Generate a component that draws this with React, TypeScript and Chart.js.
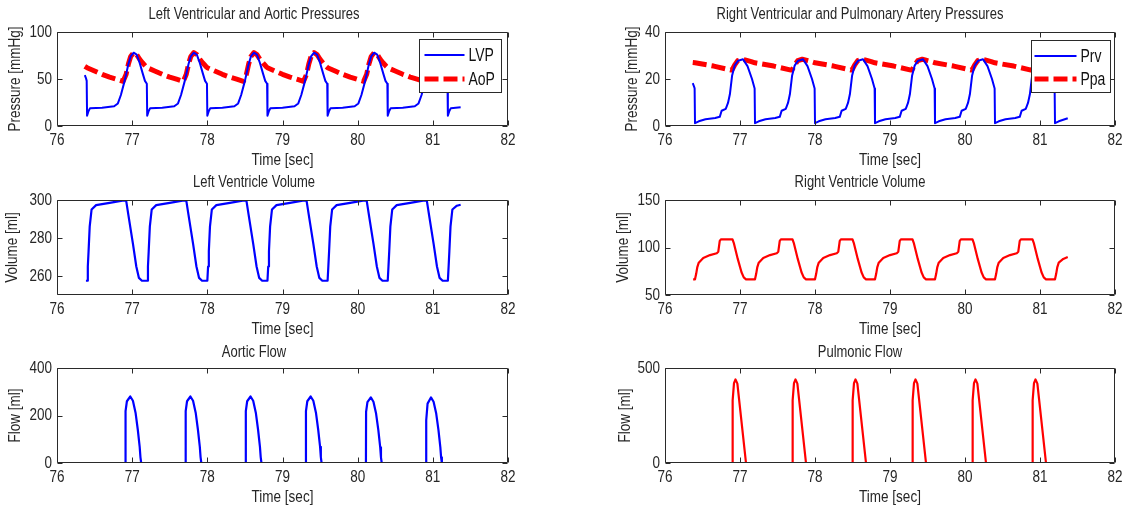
import React, { useEffect, useRef } from 'react';
import { Chart, registerables } from 'chart.js';

Chart.register(...registerables);

const FONT = '"Liberation Sans", Arial, Helvetica, sans-serif';
const TEXT = '#262626';
const BLUE = '#0000ff';
const RED = '#ff0000';
const TEXT_STRETCH = 1.25;

type P = [number, number];

// ---------- tick labels ----------
const timeTicks = [76, 77, 78, 79, 80, 81, 82];
const lvPressureTicks = [0, 50, 100];
const rvPressureTicks = [0, 20, 40];
const lvVolumeTicks = [260, 280, 300];
const rvVolumeTicks = [50, 100, 150];
const aorticFlowTicks = [0, 200, 400];
const pulmonicFlowTicks = [0, 500];

// ---------- series (time [s], value) ----------
const lvp: P[] = [
  [76.37, 54], [76.385, 51], [76.395, 48],
  [76.40, 11], [76.42, 16], [76.44, 19], [76.60, 19.5], [76.76, 21], [76.81, 24], [76.85, 33], [76.90, 48], [76.95, 66], [76.98, 74], [77.02, 78], [77.06, 76], [77.10, 67], [77.14, 56], [77.17, 48], [77.195, 45],
  [77.20, 11], [77.22, 16], [77.24, 19], [77.40, 19.5], [77.56, 21], [77.61, 24], [77.65, 33], [77.70, 48], [77.75, 66], [77.78, 74], [77.82, 78], [77.86, 76], [77.90, 67], [77.94, 56], [77.97, 48], [77.995, 45],
  [78.00, 11], [78.02, 16], [78.04, 19], [78.20, 19.5], [78.36, 21], [78.41, 24], [78.45, 33], [78.50, 48], [78.55, 66], [78.58, 74], [78.62, 78], [78.66, 76], [78.70, 67], [78.74, 56], [78.77, 48], [78.795, 45],
  [78.80, 11], [78.82, 16], [78.84, 19], [79.00, 19.5], [79.16, 21], [79.21, 24], [79.25, 33], [79.30, 48], [79.35, 66], [79.38, 74], [79.42, 78], [79.46, 76], [79.50, 67], [79.54, 56], [79.57, 48], [79.595, 45],
  [79.60, 11], [79.62, 16], [79.64, 19], [79.80, 19.5], [79.96, 21], [80.01, 24], [80.05, 33], [80.10, 48], [80.15, 66], [80.18, 74], [80.22, 78], [80.26, 76], [80.30, 67], [80.34, 56], [80.37, 48], [80.395, 45],
  [80.40, 11], [80.42, 16], [80.44, 19], [80.60, 19.5], [80.76, 21], [80.81, 24], [80.85, 33], [80.90, 48], [80.95, 66], [80.98, 74], [81.02, 78], [81.06, 76], [81.10, 67], [81.14, 56], [81.17, 48], [81.195, 45],
  [81.20, 11], [81.22, 16], [81.24, 19], [81.37, 20],
];

const aop: P[] = [
  [76.37, 63.5],
  [76.40, 62], [76.50, 58.5], [76.60, 55], [76.70, 52], [76.80, 49.5], [76.88, 47.5], [76.92, 55], [76.95, 66], [76.98, 74], [77.02, 78], [77.06, 76], [77.10, 71], [77.14, 67], [77.18, 63.5],
  [77.20, 62], [77.30, 58.5], [77.40, 55], [77.50, 52], [77.60, 49.5], [77.68, 47.5], [77.72, 55], [77.75, 66], [77.78, 74], [77.82, 78], [77.86, 76], [77.90, 71], [77.94, 67], [77.98, 63.5],
  [78.00, 62], [78.10, 58.5], [78.20, 55], [78.30, 52], [78.40, 49.5], [78.48, 47.5], [78.52, 55], [78.55, 66], [78.58, 74], [78.62, 78], [78.66, 76], [78.70, 71], [78.74, 67], [78.78, 63.5],
  [78.80, 62], [78.90, 58.5], [79.00, 55], [79.10, 52], [79.20, 49.5], [79.28, 47.5], [79.32, 55], [79.35, 66], [79.38, 74], [79.42, 78], [79.46, 76], [79.50, 71], [79.54, 67], [79.58, 63.5],
  [79.60, 62], [79.70, 58.5], [79.80, 55], [79.90, 52], [80.00, 49.5], [80.08, 47.5], [80.12, 55], [80.15, 66], [80.18, 74], [80.22, 78], [80.26, 76], [80.30, 71], [80.34, 67], [80.38, 63.5],
  [80.40, 62], [80.50, 58.5], [80.60, 55], [80.70, 52], [80.80, 49.5], [80.88, 47.5], [80.92, 55], [80.95, 66], [80.98, 74], [81.02, 78], [81.06, 76], [81.10, 71], [81.14, 67], [81.18, 63.5],
  [81.20, 62], [81.30, 58.5], [81.37, 56.5],
];

const prv: P[] = [
  [76.37, 18.2], [76.385, 17], [76.395, 16],
  [76.40, 1.2], [76.45, 2], [76.54, 2.9], [76.67, 3.4], [76.73, 3.9], [76.755, 6.5], [76.81, 7.3], [76.84, 9.8], [76.865, 13.5], [76.895, 21.5], [76.93, 25.8], [76.975, 27.8], [77.04, 28.4], [77.10, 25.5], [77.16, 20], [77.195, 16],
  [77.20, 1.2], [77.25, 2], [77.34, 2.9], [77.47, 3.4], [77.53, 3.9], [77.555, 6.5], [77.61, 7.3], [77.64, 9.8], [77.665, 13.5], [77.695, 21.5], [77.73, 25.8], [77.775, 27.8], [77.84, 28.4], [77.90, 25.5], [77.96, 20], [77.995, 16],
  [78.00, 1.2], [78.05, 2], [78.14, 2.9], [78.27, 3.4], [78.33, 3.9], [78.355, 6.5], [78.41, 7.3], [78.44, 9.8], [78.465, 13.5], [78.495, 21.5], [78.53, 25.8], [78.575, 27.8], [78.64, 28.4], [78.70, 25.5], [78.76, 20], [78.795, 16],
  [78.80, 1.2], [78.85, 2], [78.94, 2.9], [79.07, 3.4], [79.13, 3.9], [79.155, 6.5], [79.21, 7.3], [79.24, 9.8], [79.265, 13.5], [79.295, 21.5], [79.33, 25.8], [79.375, 27.8], [79.44, 28.4], [79.50, 25.5], [79.56, 20], [79.595, 16],
  [79.60, 1.2], [79.65, 2], [79.74, 2.9], [79.87, 3.4], [79.93, 3.9], [79.955, 6.5], [80.01, 7.3], [80.04, 9.8], [80.065, 13.5], [80.095, 21.5], [80.13, 25.8], [80.175, 27.8], [80.24, 28.4], [80.30, 25.5], [80.36, 20], [80.395, 16],
  [80.40, 1.2], [80.45, 2], [80.54, 2.9], [80.67, 3.4], [80.73, 3.9], [80.755, 6.5], [80.81, 7.3], [80.84, 9.8], [80.865, 13.5], [80.895, 21.5], [80.93, 25.8], [80.975, 27.8], [81.04, 28.4], [81.10, 25.5], [81.16, 20], [81.195, 16],
  [81.20, 1.2], [81.25, 2], [81.37, 3.3],
];

const ppa: P[] = [
  [76.37, 27.0],
  [76.40, 26.9], [76.65, 25.5], [76.88, 23.8], [76.90, 24.2], [76.93, 26.0], [76.97, 27.8], [77.03, 28.4], [77.08, 28.0], [77.15, 27.4],
  [77.20, 26.9], [77.45, 25.5], [77.68, 23.8], [77.70, 24.2], [77.73, 26.0], [77.77, 27.8], [77.83, 28.4], [77.88, 28.0], [77.95, 27.4],
  [78.00, 26.9], [78.25, 25.5], [78.48, 23.8], [78.50, 24.2], [78.53, 26.0], [78.57, 27.8], [78.63, 28.4], [78.68, 28.0], [78.75, 27.4],
  [78.80, 26.9], [79.05, 25.5], [79.28, 23.8], [79.30, 24.2], [79.33, 26.0], [79.37, 27.8], [79.43, 28.4], [79.48, 28.0], [79.55, 27.4],
  [79.60, 26.9], [79.85, 25.5], [80.08, 23.8], [80.10, 24.2], [80.13, 26.0], [80.17, 27.8], [80.23, 28.4], [80.28, 28.0], [80.35, 27.4],
  [80.40, 26.9], [80.65, 25.5], [80.88, 23.8], [80.90, 24.2], [80.93, 26.0], [80.97, 27.8], [81.03, 28.4], [81.08, 28.0], [81.15, 27.4],
  [81.20, 26.9], [81.37, 26.0],
];

const lvVolume: P[] = [
  [76.385, 257.5],
  [76.40, 257.5], [76.41, 265], [76.42, 273], [76.435, 286], [76.46, 295], [76.52, 297.3], [76.70, 298.5], [76.87, 299.7], [76.92, 299.7], [76.95, 292], [77.01, 277], [77.055, 265], [77.09, 259], [77.13, 257.5],
  [77.20, 257.5], [77.21, 265], [77.22, 273], [77.235, 286], [77.26, 295], [77.32, 297.3], [77.50, 298.5], [77.67, 299.7], [77.72, 299.7], [77.75, 292], [77.81, 277], [77.855, 265], [77.89, 259], [77.93, 257.5],
  [78.00, 257.5], [78.01, 265], [78.02, 273], [78.035, 286], [78.06, 295], [78.12, 297.3], [78.30, 298.5], [78.47, 299.7], [78.52, 299.7], [78.55, 292], [78.61, 277], [78.655, 265], [78.69, 259], [78.73, 257.5],
  [78.80, 257.5], [78.81, 265], [78.82, 273], [78.835, 286], [78.86, 295], [78.92, 297.3], [79.10, 298.5], [79.27, 299.7], [79.32, 299.7], [79.35, 292], [79.41, 277], [79.455, 265], [79.49, 259], [79.53, 257.5],
  [79.60, 257.5], [79.61, 265], [79.62, 273], [79.635, 286], [79.66, 295], [79.72, 297.3], [79.90, 298.5], [80.07, 299.7], [80.12, 299.7], [80.15, 292], [80.21, 277], [80.255, 265], [80.29, 259], [80.33, 257.5],
  [80.40, 257.5], [80.41, 265], [80.42, 273], [80.435, 286], [80.46, 295], [80.52, 297.3], [80.70, 298.5], [80.87, 299.7], [80.92, 299.7], [80.95, 292], [81.01, 277], [81.055, 265], [81.09, 259], [81.13, 257.5],
  [81.20, 257.5], [81.21, 265], [81.22, 273], [81.235, 286], [81.26, 295], [81.32, 297], [81.37, 297.5],
];

const rvVolume: P[] = [
  [76.375, 66.5],
  [76.40, 66.5], [76.415, 72], [76.43, 79], [76.45, 84], [76.51, 89], [76.60, 92], [76.69, 94], [76.71, 95.5], [76.73, 107], [76.745, 108.5], [76.90, 108.5], [76.92, 104], [76.97, 88], [77.02, 74], [77.05, 68.5], [77.08, 66.5],
  [77.20, 66.5], [77.215, 72], [77.23, 79], [77.25, 84], [77.31, 89], [77.40, 92], [77.49, 94], [77.51, 95.5], [77.53, 107], [77.545, 108.5], [77.70, 108.5], [77.72, 104], [77.77, 88], [77.82, 74], [77.85, 68.5], [77.88, 66.5],
  [78.00, 66.5], [78.015, 72], [78.03, 79], [78.05, 84], [78.11, 89], [78.20, 92], [78.29, 94], [78.31, 95.5], [78.33, 107], [78.345, 108.5], [78.50, 108.5], [78.52, 104], [78.57, 88], [78.62, 74], [78.65, 68.5], [78.68, 66.5],
  [78.80, 66.5], [78.815, 72], [78.83, 79], [78.85, 84], [78.91, 89], [79.00, 92], [79.09, 94], [79.11, 95.5], [79.13, 107], [79.145, 108.5], [79.30, 108.5], [79.32, 104], [79.37, 88], [79.42, 74], [79.45, 68.5], [79.48, 66.5],
  [79.60, 66.5], [79.615, 72], [79.63, 79], [79.65, 84], [79.71, 89], [79.80, 92], [79.89, 94], [79.91, 95.5], [79.93, 107], [79.945, 108.5], [80.10, 108.5], [80.12, 104], [80.17, 88], [80.22, 74], [80.25, 68.5], [80.28, 66.5],
  [80.40, 66.5], [80.415, 72], [80.43, 79], [80.45, 84], [80.51, 89], [80.60, 92], [80.69, 94], [80.71, 95.5], [80.73, 107], [80.745, 108.5], [80.90, 108.5], [80.92, 104], [80.97, 88], [81.02, 74], [81.05, 68.5], [81.08, 66.5],
  [81.20, 66.5], [81.215, 72], [81.23, 79], [81.25, 84], [81.31, 88], [81.37, 90],
];

const aorticFlow: P[] = [
  [76.37, 0],
  [76.91, 0], [76.912, 218], [76.93, 260], [76.975, 280], [77.01, 262], [77.045, 212], [77.075, 140], [77.10, 68], [77.11, 25], [77.12, 0],
  [77.71, 0], [77.712, 218], [77.73, 260], [77.775, 280], [77.81, 262], [77.845, 212], [77.875, 140], [77.90, 68], [77.91, 25], [77.92, 0],
  [78.51, 0], [78.512, 218], [78.53, 260], [78.575, 280], [78.61, 262], [78.645, 212], [78.675, 140], [78.70, 68], [78.71, 25], [78.72, 0],
  [79.31, 0], [79.312, 218], [79.33, 260], [79.375, 280], [79.41, 262], [79.445, 212], [79.475, 140], [79.50, 68], [79.51, 25], [79.52, 0],
  [80.11, 0], [80.112, 215], [80.13, 256], [80.175, 276], [80.21, 258], [80.245, 208], [80.275, 138], [80.30, 66], [80.31, 24], [80.32, 0],
  [80.91, 0], [80.912, 180], [80.93, 250], [80.975, 276], [81.01, 258], [81.045, 208], [81.075, 138], [81.10, 66], [81.11, 24], [81.12, 0],
  [81.37, 0],
];

const pulmonicFlow: P[] = [
  [76.37, 0],
  [76.90, 0], [76.902, 330], [76.92, 420], [76.94, 440], [76.965, 418], [77.08, 0],
  [77.70, 0], [77.702, 330], [77.72, 420], [77.74, 440], [77.765, 418], [77.88, 0],
  [78.50, 0], [78.502, 330], [78.52, 420], [78.54, 440], [78.565, 418], [78.68, 0],
  [79.30, 0], [79.302, 330], [79.32, 420], [79.34, 440], [79.365, 418], [79.48, 0],
  [80.10, 0], [80.102, 330], [80.12, 420], [80.14, 440], [80.165, 418], [80.28, 0],
  [80.90, 0], [80.902, 330], [80.92, 420], [80.94, 440], [80.965, 418], [81.08, 0],
  [81.37, 0],
];

// ---------- layout / styling ----------
type Series = { label: string; data: P[]; color: string; width: number; dash?: number[] };
type LegendOpts = { right: number; top: number; width: number; height: number; row1: number; row2: number; lineStart: number; lineEnd: number; textX: number };
type PlotSpec = {
  title: string; yTitle: string;
  left: number; top: number; width: number; height: number; padL: number;
  titleGap: number; yTitleOffset: number;
  yMin: number; yMax: number; yTicks: number[];
  series: Series[];
  legend?: LegendOpts;
};

const PAD_R = 25;
const PAD_T = 32;
const PAD_B = 46;
const TICK_SIZE = 13.5;
const LABEL_SIZE = 13.5;
const TITLE_SIZE = 13;
const LEGEND_SIZE = 14;

const LEFT_X = 57;
const LEFT_W = 451;
const RIGHT_X = 665;
const RIGHT_W = 450;

// MATLAB-like text proportions: glyphs drawn taller than wide
function stretchText(ctx: any, sy: number) {
  if (ctx.__stretched) return;
  ctx.__stretched = true;
  const orig = ctx.fillText;
  ctx.fillText = function (text: string, x: number, y: number, maxWidth?: number) {
    this.save();
    this.translate(x, y);
    this.scale(1, sy);
    if (maxWidth === undefined || maxWidth === null) orig.call(this, text, 0, 0);
    else orig.call(this, text, 0, 0, maxWidth);
    this.restore();
  };
}

const axesBoxPlugin = {
  id: 'axesBox',
  afterDatasetsDraw(chart: any) {
    const { ctx, chartArea: a, scales } = chart;
    const L = Math.round(a.left) + 0.5;
    const R = Math.round(a.right) - 0.5;
    const T = Math.round(a.top) + 0.5;
    const B = Math.round(a.bottom) - 0.5;
    const len = 5;
    ctx.save();
    ctx.setLineDash([]);
    ctx.strokeStyle = '#2a2a2a';
    ctx.lineWidth = 1;
    ctx.beginPath();
    ctx.rect(L, T, R - L, B - T);
    scales.x.ticks.forEach((t: any) => {
      const px = Math.round(scales.x.getPixelForValue(t.value)) + 0.5;
      ctx.moveTo(px, B); ctx.lineTo(px, B - len);
      ctx.moveTo(px, T); ctx.lineTo(px, T + len);
    });
    scales.y.ticks.forEach((t: any) => {
      const py = Math.round(scales.y.getPixelForValue(t.value)) + 0.5;
      ctx.moveTo(L, py); ctx.lineTo(L + len, py);
      ctx.moveTo(R, py); ctx.lineTo(R - len, py);
    });
    ctx.stroke();
    ctx.restore();
  },
};

const boxLegendPlugin = {
  id: 'boxLegend',
  afterDraw(chart: any, _args: any, o: any) {
    if (!o || !o.width) return;
    const { ctx, chartArea: a } = chart;
    const x0 = Math.round(a.right - o.right - o.width) + 0.5;
    const y0 = Math.round(a.top + o.top) + 0.5;
    ctx.save();
    ctx.fillStyle = '#ffffff';
    ctx.fillRect(x0, y0, o.width, o.height);
    ctx.setLineDash([]);
    ctx.strokeStyle = '#2a2a2a';
    ctx.lineWidth = 1;
    ctx.strokeRect(x0, y0, o.width, o.height);
    const rows = [o.row1, o.row2];
    chart.data.datasets.forEach((ds: any, i: number) => {
      const cy = Math.round(y0 + rows[i]);
      ctx.strokeStyle = ds.borderColor;
      ctx.lineWidth = ds.borderWidth;
      ctx.setLineDash(ds.borderDash || []);
      ctx.beginPath();
      ctx.moveTo(x0 + o.lineStart, cy);
      ctx.lineTo(x0 + o.lineEnd, cy);
      ctx.stroke();
      ctx.setLineDash([]);
      ctx.fillStyle = '#111111';
      ctx.font = `${LEGEND_SIZE}px ${FONT}`;
      ctx.textAlign = 'left';
      ctx.textBaseline = 'middle';
      ctx.fillText(ds.label, x0 + o.textX, cy + 1);
    });
    ctx.restore();
  },
};

function Subplot({ spec }: { spec: PlotSpec }) {
  const ref = useRef<HTMLCanvasElement | null>(null);
  const cw = spec.padL + spec.width + PAD_R;
  const ch = PAD_T + spec.height + PAD_B;

  useEffect(() => {
    if (!ref.current) return;
    const ctx2d = ref.current.getContext('2d');
    stretchText(ctx2d, TEXT_STRETCH);
    const tickFont = { family: FONT, size: TICK_SIZE, lineHeight: 1 };
    const labelFont = { family: FONT, size: LABEL_SIZE, lineHeight: 1 };
    const chart = new Chart(ref.current, {
      type: 'line',
      data: {
        datasets: spec.series.map((s) => ({
          label: s.label,
          data: s.data.map(([x, y]) => ({ x, y })),
          borderColor: s.color,
          backgroundColor: s.color,
          borderWidth: s.width,
          borderDash: s.dash ?? [],
          borderCapStyle: 'butt',
          borderJoinStyle: 'round',
          pointRadius: 0,
          pointHoverRadius: 0,
          tension: 0,
          fill: false,
        })),
      },
      options: {
        responsive: false,
        animation: false,
        devicePixelRatio: 1,
        events: [],
        layout: { padding: { left: 0, right: PAD_R, top: 0, bottom: 0 } },
        plugins: {
          legend: { display: false },
          tooltip: { enabled: false },
          title: {
            display: true,
            text: spec.title,
            color: TEXT,
            font: { family: FONT, size: TITLE_SIZE, weight: 'normal', lineHeight: 1 },
            padding: { top: PAD_T - spec.titleGap - TITLE_SIZE / 2, bottom: spec.titleGap - TITLE_SIZE / 2 },
          },
          boxLegend: spec.legend ? { ...spec.legend } : false,
        } as any,
        scales: {
          x: {
            type: 'linear',
            position: 'bottom',
            min: 76,
            max: 82,
            afterBuildTicks: (s: any) => { s.ticks = timeTicks.map((v) => ({ value: v })); },
            afterFit: (s: any) => { s.height = PAD_B; },
            grid: { display: false, drawTicks: false },
            border: { display: false },
            ticks: { autoSkip: false, maxRotation: 0, padding: 7.5, color: TEXT, font: tickFont, callback: (v: any) => String(v) },
            title: { display: true, text: 'Time [sec]', color: TEXT, font: labelFont, padding: { top: 0, bottom: 5 } },
          },
          y: {
            type: 'linear',
            position: 'left',
            min: spec.yMin,
            max: spec.yMax,
            afterBuildTicks: (s: any) => { s.ticks = spec.yTicks.map((v) => ({ value: v })); },
            afterFit: (s: any) => { s.width = spec.padL; },
            grid: { display: false, drawTicks: false },
            border: { display: false },
            ticks: { autoSkip: false, padding: 5, color: TEXT, font: tickFont, callback: (v: any) => String(v) },
            title: { display: true, text: spec.yTitle, color: TEXT, font: labelFont, padding: { top: spec.padL - LABEL_SIZE / 2 - spec.yTitleOffset, bottom: 0 } },
          },
        },
      } as any,
      plugins: [axesBoxPlugin, boxLegendPlugin],
    });
    return () => chart.destroy();
  }, [spec]);

  return (
    <canvas
      ref={ref}
      width={cw}
      height={ch}
      style={{ position: 'absolute', left: spec.left - spec.padL, top: spec.top - PAD_T, width: cw, height: ch }}
    />
  );
}

const plots: PlotSpec[] = [
  {
    title: 'Left Ventricular and Aortic Pressures', yTitle: 'Pressure [mmHg]',
    left: LEFT_X, top: 32, width: LEFT_W, height: 94, padL: 57, titleGap: 17.5, yTitleOffset: 42,
    yMin: 0, yMax: 100, yTicks: lvPressureTicks,
    series: [
      { label: 'LVP', data: lvp, color: BLUE, width: 2 },
      { label: 'AoP', data: aop, color: RED, width: 5, dash: [14, 5] },
    ],
    legend: { right: 7, top: 7, width: 82, height: 53, row1: 15, row2: 39, lineStart: 5, lineEnd: 45, textX: 49 },
  },
  {
    title: 'Right Ventricular and Pulmonary Artery Pressures', yTitle: 'Pressure [mmHg]',
    left: RIGHT_X, top: 32, width: RIGHT_W, height: 94, padL: 60, titleGap: 17.5, yTitleOffset: 33,
    yMin: 0, yMax: 40, yTicks: rvPressureTicks,
    series: [
      { label: 'Prv', data: prv, color: BLUE, width: 2 },
      { label: 'Ppa', data: ppa, color: RED, width: 5, dash: [14, 5] },
    ],
    legend: { right: 5, top: 8, width: 79, height: 52, row1: 15, row2: 38, lineStart: 3, lineEnd: 45, textX: 49 },
  },
  {
    title: 'Left Ventricle Volume', yTitle: 'Volume [ml]',
    left: LEFT_X, top: 200, width: LEFT_W, height: 95, padL: 57, titleGap: 17, yTitleOffset: 45,
    yMin: 250, yMax: 300, yTicks: lvVolumeTicks,
    series: [{ label: 'LV Volume', data: lvVolume, color: BLUE, width: 2.2 }],
  },
  {
    title: 'Right Ventricle Volume', yTitle: 'Volume [ml]',
    left: RIGHT_X, top: 200, width: RIGHT_W, height: 95, padL: 60, titleGap: 17, yTitleOffset: 42,
    yMin: 50, yMax: 150, yTicks: rvVolumeTicks,
    series: [{ label: 'RV Volume', data: rvVolume, color: RED, width: 2.2 }],
  },
  {
    title: 'Aortic Flow', yTitle: 'Flow [ml]',
    left: LEFT_X, top: 368, width: LEFT_W, height: 95, padL: 57, titleGap: 15.5, yTitleOffset: 42,
    yMin: 0, yMax: 400, yTicks: aorticFlowTicks,
    series: [{ label: 'Aortic Flow', data: aorticFlow, color: BLUE, width: 2.2 }],
  },
  {
    title: 'Pulmonic Flow', yTitle: 'Flow [ml]',
    left: RIGHT_X, top: 368, width: RIGHT_W, height: 95, padL: 60, titleGap: 15.5, yTitleOffset: 40,
    yMin: 0, yMax: 500, yTicks: pulmonicFlowTicks,
    series: [{ label: 'Pulmonic Flow', data: pulmonicFlow, color: RED, width: 2.2 }],
  },
];

export default function App() {
  return (
    <div style={{ position: 'absolute', left: 0, top: 0, width: 1144, height: 513, background: '#ffffff', overflow: 'hidden' }}>
      {plots.map((p) => (
        <Subplot key={p.title} spec={p} />
      ))}
    </div>
  );
}
